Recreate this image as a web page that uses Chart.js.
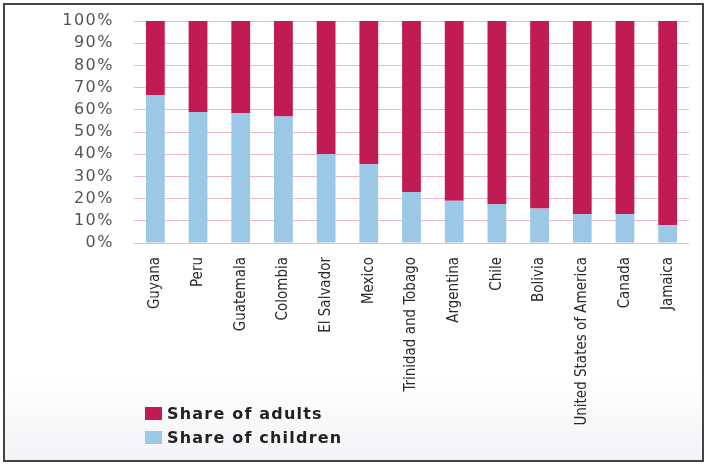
<!DOCTYPE html>
<html>
<head>
<meta charset="utf-8">
<script src="https://cdn.jsdelivr.net/npm/chart.js@4"></script>
<style>
  html, body { margin: 0; padding: 0; background: #fff; }
  #wrap { position: relative; width: 706px; height: 465px; overflow: hidden; }
  #frame {
    position: absolute; left: 3px; top: 3px; width: 697px; height: 455px;
    border: 2px solid #444;
    background: linear-gradient(to bottom, #fff 0%, #fff 82%, #f1f3f6 100%);
  }
  #chart { position: absolute; left: 0; top: 0; }
  .legend { position: absolute; left: 145px; font: bold 16px "DejaVu Sans", sans-serif;
            letter-spacing: 1.2px; color: #222; line-height: 18px; }
  .legend .sw { display: inline-block; width: 17px; height: 13px; margin-right: 5px; vertical-align: -1px; }
</style>
</head>
<body>
<div id="wrap">
  <div id="frame"></div>
  <canvas id="chart" width="706" height="465"></canvas>
  <div class="legend" style="top:405px"><span class="sw" style="background:#c01b55"></span>Share of adults</div>
  <div class="legend" style="top:429px"><span class="sw" style="background:#9bc8e6"></span>Share of children</div>
</div>
<script>
// ---- data -----------------------------------------------------------------
const COUNTRIES = [
  'Guyana', 'Peru', 'Guatemala', 'Colombia', 'El Salvador', 'Mexico',
  'Trinidad and Tobago', 'Argentina', 'Chile', 'Bolivia',
  'United States of America', 'Canada', 'Jamaica',
];
const CHILDREN = [66.5, 59, 58.5, 57, 40, 35.5, 23, 19, 17.5, 15.5, 13, 13, 8];
const ADULTS   = [33.5, 41, 41.5, 43, 60, 64.5, 77, 81, 82.5, 84.5, 87, 87, 92];
const Y_TICKS  = [0, 10, 20, 30, 40, 50, 60, 70, 80, 90, 100];

const ADULT_COLOR = '#c01b55';
const CHILD_COLOR = '#9bc8e6';
const GRID_COLOR  = '#ecb8c8';

// wider y labels: wrap the y scale's label drawing with letter spacing
const ySpacing = {
  id: 'ySpacing',
  afterUpdate(chart) {
    const y = chart.scales.y;
    if (!y || y._spaced) return;
    const orig = y.drawLabels.bind(y);
    y.drawLabels = function(area) {
      const ctx = this.ctx;
      ctx.save();
      ctx.letterSpacing = '1.5px';
      orig(area);
      ctx.restore();
    };
    y._spaced = true;
  },
};

new Chart(document.getElementById('chart'), {
  type: 'bar',
  data: {
    labels: COUNTRIES,
    datasets: [
      { label: 'Share of children', data: CHILDREN, backgroundColor: CHILD_COLOR,
        barPercentage: 0.44, categoryPercentage: 1 },
      { label: 'Share of adults', data: ADULTS, backgroundColor: ADULT_COLOR,
        barPercentage: 0.44, categoryPercentage: 1 },
    ],
  },
  options: {
    responsive: false,
    animation: false,
    layout: { padding: { left: 0, right: 17, top: 21, bottom: 0 } },
    plugins: { legend: { display: false }, tooltip: { enabled: false } },
    scales: {
      x: {
        stacked: true,
        grid: { display: false },
        border: { display: false },
        ticks: {
          autoSkip: false, minRotation: 90, maxRotation: 90, padding: 6,
          color: '#2a2a2a', font: { family: '"DejaVu Sans Condensed", sans-serif', size: 15 },
        },
        afterFit(s) { s.height = 222; s.paddingLeft = 0; s.paddingRight = 0; },
      },
      y: {
        stacked: true, min: 0, max: 100,
        afterBuildTicks(s) { s.ticks = Y_TICKS.map(v => ({ value: v })); },
        grid: { color: GRID_COLOR, lineWidth: 1, drawTicks: false },
        border: { display: false },
        ticks: {
          padding: 20, color: '#555',
          font: { family: '"DejaVu Sans", sans-serif', size: 16 },
          callback: v => v + '%',
        },
        afterFit(s) { s.width = 134; s.paddingTop = 0; s.paddingBottom = 0; },
      },
    },
  },
  plugins: [ySpacing],
});
</script>
</body>
</html>
